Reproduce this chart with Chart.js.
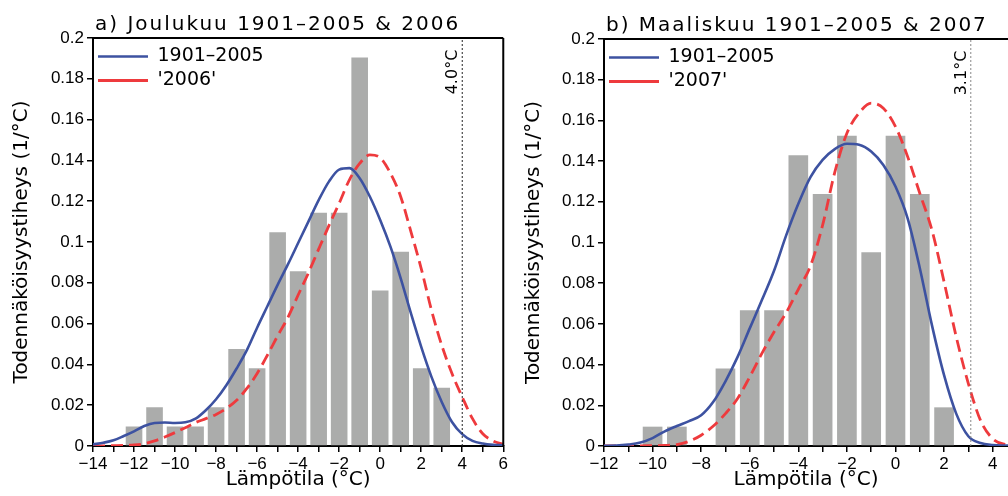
<!DOCTYPE html>
<html>
<head>
<meta charset="utf-8">
<script src="https://cdn.jsdelivr.net/npm/chart.js@4"></script>
<style>
  html, body { margin: 0; padding: 0; background: #fff; }
  #wrap { position: relative; width: 1008px; height: 496px; overflow: hidden; }
  canvas { position: absolute; top: 0; }
</style>
</head>
<body>
<div id="wrap">
  <canvas id="chartDec" width="510" height="496" style="left:0"></canvas>
  <canvas id="chartMar" width="504" height="496" style="left:504px"></canvas>
</div>
<script>
// a) December: histogram 1901-2005 (bin centres, density) + curves
const decBins = [-12, -11, -10, -9, -8, -7, -6, -5, -4, -3, -2, -1, 0, 1, 2, 3];
const decFreq = [0.0095, 0.019, 0.0095, 0.0095, 0.019, 0.0476, 0.0381, 0.1048,
                 0.0857, 0.1143, 0.1143, 0.1905, 0.0762, 0.0952, 0.0381, 0.0286];
const decTemp = [-14, -13.5, -13, -12.5, -12, -11.5, -11, -10.5, -10, -9.5, -9, -8.5, -8, -7.5,
                 -7, -6.5, -6, -5.5, -5, -4.5, -4, -3.5, -3, -2.5, -2, -1.5, -1, -0.5, 0,
                 0.5, 1, 1.5, 2, 2.5, 3, 3.5, 4, 4.5, 5, 5.5, 6];
const decPast = [0.0008, 0.0016, 0.0028, 0.0049, 0.0072, 0.0098, 0.0113, 0.0115, 0.0113, 0.0116,
                 0.0134, 0.0175, 0.0229, 0.0298, 0.038, 0.047, 0.058, 0.0685, 0.079, 0.089,
                 0.0995, 0.110, 0.1205, 0.1296, 0.1355, 0.1362, 0.1313, 0.1222, 0.1108, 0.0977,
                 0.0822, 0.065, 0.0486, 0.0339, 0.0216, 0.0118, 0.0058, 0.0025, 0.0012, 0.0006, 0.0004];
const dec2006 = [0.0001, 0.0001, 0.0002, 0.0003, 0.0005, 0.0011, 0.0025, 0.0044, 0.0066, 0.009,
                 0.0115, 0.0134, 0.0155, 0.0184, 0.0224, 0.0282, 0.0355, 0.0445, 0.054, 0.063,
                 0.074, 0.0848, 0.0965, 0.108, 0.119, 0.1305, 0.1385, 0.1427, 0.1413, 0.1337,
                 0.1222, 0.105, 0.087, 0.0666, 0.0494, 0.0355, 0.024, 0.0134, 0.006, 0.0025, 0.0008];
const decMark = 4.0;

// b) March
const marBins = [-10, -9, -7, -6, -5, -4, -3, -2, -1, 0, 1, 2];
const marFreq = [0.0095, 0.0095, 0.0381, 0.0667, 0.0667, 0.1429, 0.1238, 0.1524,
                 0.0952, 0.1524, 0.1238, 0.019];
const marTemp = [-12, -11.5, -11, -10.5, -10, -9.5, -9, -8.5, -8, -7.5, -7, -6.5, -6, -5.5,
                 -5, -4.5, -4, -3.5, -3, -2.5, -2, -1.5, -1, -0.5, 0, 0.5, 1, 1.5, 2, 2.5,
                 3, 3.5, 4, 4.5, 5];
const marPast = [0.0001, 0.0002, 0.0007, 0.0017, 0.0039, 0.0072, 0.0098, 0.0122, 0.0151, 0.0217,
                 0.0318, 0.0438, 0.0578, 0.0717, 0.0861, 0.1035, 0.119, 0.1321, 0.1406, 0.1459,
                 0.1485, 0.148, 0.1447, 0.1381, 0.1275, 0.1119, 0.0875, 0.0594, 0.0348, 0.0159,
                 0.0048, 0.0015, 0.0005, 0.0002, 0.0001];
const mar2007 = [0, 0, 0.0001, 0.0001, 0.0002, 0.0003, 0.0007, 0.0023, 0.0053, 0.0098,
                 0.0159, 0.0233, 0.034, 0.0455, 0.056, 0.0655, 0.077, 0.0885, 0.1085, 0.1345,
                 0.1537, 0.1636, 0.1685, 0.166, 0.157, 0.1422, 0.1242, 0.1061, 0.0807, 0.0537,
                 0.0307, 0.0126, 0.0036, 0.0008, 0.0002];
const marMark = 3.1;

const BLUE = '#3d52a1';
const RED = '#ee3a3d';
const GREY = '#abacab';

Chart.defaults.font.family = '"Liberation Sans", Arial, sans-serif';
Chart.defaults.font.size = 17;
Chart.defaults.color = '#000';

// title, top/right frame and rotated marker label
const panelDecor = {
  id: 'panelDecor',
  afterLayout(chart) {
    // vertical chartArea legends get reset to top=0, move it back inside the plot
    const lg = chart.legend;
    if (!lg) return;
    const dy = chart.chartArea.top + 4 - lg.top;
    lg.top += dy;
    lg.bottom += dy;
  },
  afterDraw(chart, args, opts) {
    const { ctx, chartArea: a } = chart;
    ctx.save();
    ctx.strokeStyle = '#000';
    ctx.lineWidth = 2;
    ctx.beginPath();
    ctx.moveTo(a.left, a.top);
    ctx.lineTo(a.right, a.top);
    if (opts.rightBorder) {
      ctx.moveTo(a.right, a.top);
      ctx.lineTo(a.right, a.bottom);
    }
    ctx.stroke();

    ctx.fillStyle = '#000';
    ctx.font = '20px "DejaVu Sans"';
    ctx.letterSpacing = '2px';
    ctx.textAlign = 'left';
    ctx.textBaseline = 'alphabetic';
    ctx.fillText(opts.title, a.left + 2, a.top - 8);

    const x = chart.scales.x.getPixelForValue(opts.marker);
    ctx.letterSpacing = '0px';
    ctx.font = '16px "DejaVu Sans"';
    ctx.translate(x - 9, a.top + 34);
    ctx.rotate(-Math.PI / 2);
    ctx.textAlign = 'center';
    ctx.textBaseline = 'middle';
    ctx.fillText(opts.marker.toFixed(1) + '°C', 0, 0);
    ctx.restore();
  }
};

function pts(xs, ys) {
  return xs.map((x, i) => ({ x: x, y: ys[i] }));
}

function makeChart(id, p) {
  const axisTitle = { family: '"DejaVu Sans"', size: 20 };
  return new Chart(document.getElementById(id), {
    type: 'bar',
    data: {
      datasets: [
        {
          type: 'line', label: '', order: 0,
          data: [{ x: p.mark, y: 0 }, { x: p.mark, y: 0.2 }],
          borderColor: p.markColor, borderWidth: 1, borderDash: [2, 2], pointRadius: 0
        },
        {
          type: 'line', label: '1901–2005', order: 1,
          data: pts(p.temp, p.past),
          borderColor: BLUE, borderWidth: 2.6, pointRadius: 0,
          cubicInterpolationMode: 'monotone'
        },
        {
          type: 'line', label: p.yearLabel, order: 2,
          data: pts(p.temp, p.year),
          borderColor: RED, borderWidth: 2.8, borderDash: [12, 6], pointRadius: 0,
          cubicInterpolationMode: 'monotone'
        },
        {
          type: 'bar', label: '', order: 3,
          data: pts(p.bins, p.freq),
          backgroundColor: GREY, borderWidth: 0,
          categoryPercentage: 1, barPercentage: 0.81
        }
      ]
    },
    options: {
      responsive: false,
      animation: false,
      layout: { autoPadding: false, padding: p.padding },
      plugins: {
        tooltip: { enabled: false },
        legend: {
          position: 'chartArea',
          align: 'start',
          labels: {
            usePointStyle: true,
            pointStyle: 'line',
            pointStyleWidth: 50,
            padding: 5,
            color: '#000',
            font: { family: '"DejaVu Sans"', size: 19 },
            filter: item => item.text !== ''
          }
        },
        panelDecor: { title: p.title, marker: p.mark, rightBorder: p.rightBorder }
      },
      scales: {
        x: {
          type: 'linear',
          min: p.xMin, max: p.xMax,
          offset: false,
          afterFit: s => { s.height = 50; },
          afterBuildTicks: s => {
            const ticks = [];
            for (let v = Math.ceil(s.min); v <= s.max; v++) ticks.push({ value: v });
            s.ticks = ticks;
          },
          ticks: {
            stepSize: 1, autoSkip: false, maxRotation: 0, padding: 2,
            callback: v => (v % 2 === 0 ? String(v).replace('-', '−') : '')
          },
          grid: { drawOnChartArea: false, offset: false, tickLength: 6, color: '#000', lineWidth: 1.5 },
          border: { color: '#000', width: 2 },
          title: { display: true, text: 'Lämpötila (°C)', font: axisTitle, padding: { top: 0, bottom: 4 } }
        },
        y: {
          min: 0, max: 0.2,
          afterFit: s => { s.width = p.yWidth; },
          ticks: { stepSize: 0.02, padding: 3, callback: v => String(+v.toFixed(2)) },
          grid: { drawOnChartArea: false, tickLength: 6, color: '#000', lineWidth: 1.5 },
          border: { color: '#000', width: 2 },
          title: { display: true, text: 'Todennäköisyystiheys (1/°C)', font: axisTitle, padding: { top: 10, bottom: 0 } }
        }
      }
    },
    plugins: [panelDecor]
  });
}

makeChart('chartDec', {
  title: 'a) Joulukuu 1901–2005 & 2006',
  yearLabel: "'2006'",
  bins: decBins, freq: decFreq, temp: decTemp, past: decPast, year: dec2006,
  mark: decMark, markColor: '#222',
  xMin: -14, xMax: 6,
  yWidth: 93,
  padding: { left: 0, top: 38, right: 5, bottom: 0 },
  rightBorder: true
});

makeChart('chartMar', {
  title: 'b) Maaliskuu 1901–2005 & 2007',
  yearLabel: "'2007'",
  bins: marBins, freq: marFreq, temp: marTemp, past: marPast, year: mar2007,
  mark: marMark, markColor: '#888',
  xMin: -12, xMax: 4.632,
  yWidth: 92,
  padding: { left: 8, top: 39, right: 0, bottom: 0 },
  rightBorder: false
});
</script>
</body>
</html>
